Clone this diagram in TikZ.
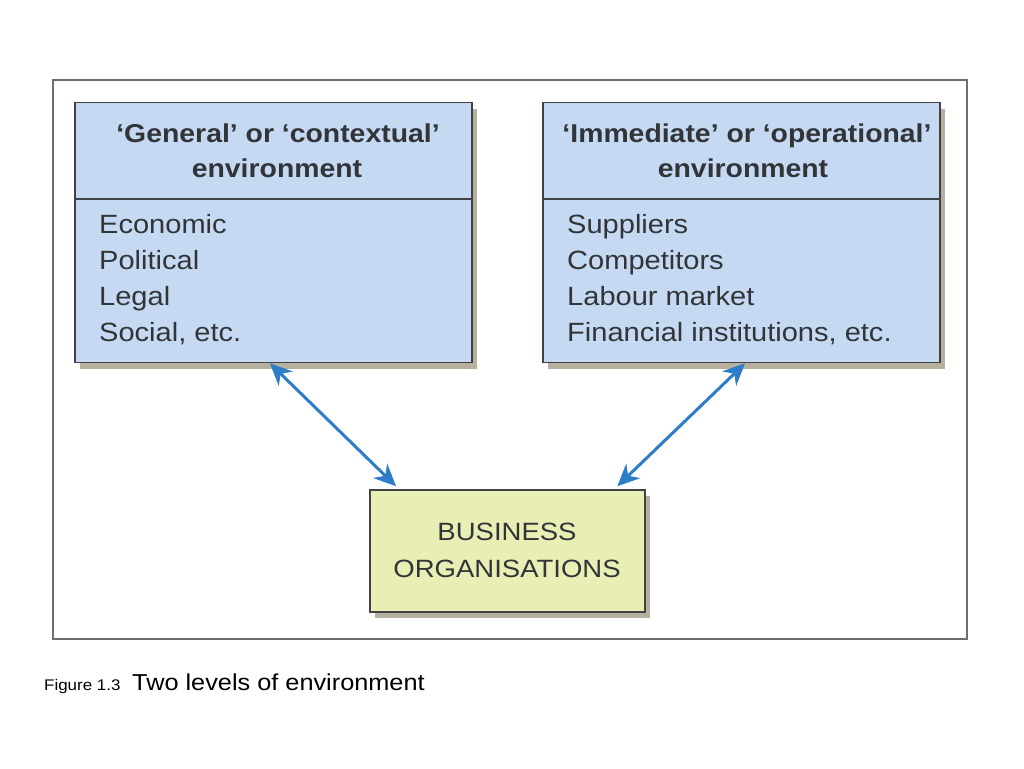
\documentclass[tikz,border=0pt]{standalone}
\usepackage{fontspec}
\setmainfont[FakeStretch=1.1]{Liberation Sans}
\usetikzlibrary{calc,arrows.meta,shadows}
\definecolor{framecol}{RGB}{110,110,110}
\definecolor{boxline}{RGB}{64,66,70}
\definecolor{bluefill}{RGB}{197,218,242}
\definecolor{yellowfill}{RGB}{232,238,180}
\definecolor{shadowcol}{RGB}{184,176,158}
\definecolor{textcol}{RGB}{50,52,56}
\definecolor{arrowcol}{RGB}{45,125,200}
\tikzset{
  envbox/.style={draw=boxline, line width=1.6pt, fill=bluefill, inner sep=0pt,
    drop shadow={shadow xshift=5pt, shadow yshift=-6pt, fill=shadowcol, opacity=1}},
  orgbox/.style={draw=boxline, line width=1.6pt, fill=yellowfill, inner sep=0pt,
    drop shadow={shadow xshift=5pt, shadow yshift=-6pt, fill=shadowcol, opacity=1}},
  headtxt/.style={font=\fontsize{25.8}{30}\selectfont\bfseries, text=textcol, anchor=base, inner sep=0pt},
  bodytxt/.style={font=\fontsize{26.4}{30}\selectfont, text=textcol, anchor=base west, inner sep=0pt},
  orgtxt/.style={font=\fontsize{25}{30}\selectfont, text=textcol, anchor=base, inner sep=0pt},
  link/.style={draw=arrowcol, line width=3pt, {Stealth[length=22pt,width=20pt,inset=7pt]}-{Stealth[length=22pt,width=20pt,inset=7pt]}},
}
\begin{document}
\begin{tikzpicture}[x=1pt,y=-1pt]
\useasboundingbox (0,0) rectangle (1024,768);
\fill[white] (0,0) rectangle (1024,768);
% outer frame
\node[draw=framecol, line width=1.8pt, minimum width=914pt, minimum height=559pt, inner sep=0pt] (frame) at (510,359.5) {};
% boxes
\node[envbox, minimum width=397pt, minimum height=260pt] (gen) at (273.5,232.5) {};
\node[envbox, minimum width=397pt, minimum height=260pt] (imm) at (741.5,232.5) {};
\node[orgbox, minimum width=275pt, minimum height=122pt] (org) at (507.5,551) {};
% dividers
\draw[boxline, line width=1.6pt] ($(gen.north west)+(0,97)$) coordinate (gl) -- ($(gen.north east)+(0,97)$) coordinate (gr);
\draw[boxline, line width=1.6pt] ($(imm.north west)+(0,97)$) coordinate (il) -- ($(imm.north east)+(0,97)$) coordinate (ir);
% headers
\node[headtxt] (gh1) at (278,142) {‘General’ or ‘contextual’};
\node[headtxt] (gh2) at (277,177) {environment};
\node[headtxt] (ih1) at (747,142) {‘Immediate’ or ‘operational’};
\node[headtxt] (ih2) at (743,177) {environment};
% bodies
\node[bodytxt] (g1) at (99,233) {Economic};
\node[bodytxt] (g2) at (99,269) {Political};
\node[bodytxt] (g3) at (99,305) {Legal};
\node[bodytxt] (g4) at (99,341) {Social, etc.};
\node[bodytxt] (i1) at (567,233) {Suppliers};
\node[bodytxt] (i2) at (567,269) {Competitors};
\node[bodytxt] (i3) at (567,305) {Labour market};
\node[bodytxt] (i4) at (567,341) {Financial institutions, etc.};
% org text
\node[orgtxt] (o1) at (507,540) {BUSINESS};
\node[orgtxt] (o2) at (507,577) {ORGANISATIONS};
% arrows
\draw[link] ($(gen.south west)!0.491!(gen.south east)$) -- ($(org.north west)!0.097!(org.north east)+(0,-3)$);
\draw[link] ($(imm.south west)!0.509!(imm.south east)$) -- ($(org.north west)!0.897!(org.north east)+(0,-3)$);
% caption
\node[anchor=base west, inner sep=0pt, font=\fontsize{15.4}{18}\selectfont] (figno) at (44,690) {Figure 1.3};
\node[anchor=base west, inner sep=0pt, font=\fontsize{23}{26}\selectfont] (figcap) at (132,690) {Two levels of environment};
\end{tikzpicture}
\end{document}
